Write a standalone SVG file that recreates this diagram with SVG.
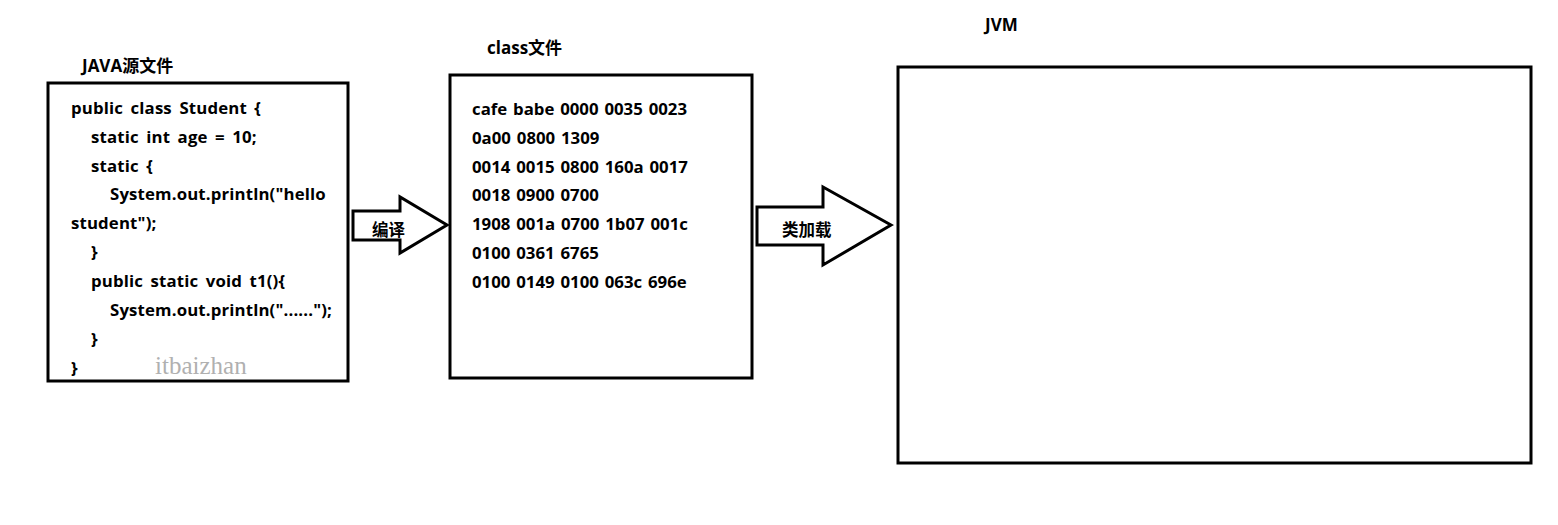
<svg xmlns="http://www.w3.org/2000/svg" width="1558" height="525" viewBox="0 0 1558 525">
<style>
.box{fill:#fff;stroke:#000;stroke-width:3}
.arr{fill:#fff;stroke:#000;stroke-width:3;stroke-linejoin:miter}
.t{font-family:"Open Sans","Noto Sans","Noto Sans CJK SC",sans-serif;font-weight:bold;font-size:16.8px;fill:#000}
.j{word-spacing:3px;letter-spacing:0.15px}
.c{word-spacing:1.5px}
.l{font-family:"Open Sans","Noto Sans","Noto Sans CJK SC",sans-serif;font-weight:bold;font-size:17px;fill:#000}
.a{font-family:"Open Sans","Noto Sans","Noto Sans CJK SC",sans-serif;font-weight:600;font-size:16.5px;fill:#000}
.w{font-family:"Liberation Serif",serif;font-size:25px;fill:#b0b0b0}
</style>
<rect width="1558" height="525" fill="#fff"/>
<g id="java-source">
<text class="l" x="82" y="72">JAVA源文件</text>
<rect class="box" x="48" y="83" width="300" height="298"/>
<g class="t j">
<text x="71" y="114">public class Student {</text>
<text x="91" y="143">static int age = 10;</text>
<text x="91" y="172">static {</text>
<text x="110" y="200">System.out.println("hello</text>
<text x="71" y="229">student");</text>
<text x="91" y="258">}</text>
<text x="91" y="287">public static void t1(){</text>
<text x="110" y="316">System.out.println("......");</text>
<text x="91" y="345">}</text>
<text x="71" y="374">}</text>
</g>
<text class="w" x="155" y="374">itbaizhan</text>
</g>
<g id="class-file">
<text class="l" x="487" y="54">class文件</text>
<rect class="box" x="450" y="75" width="302" height="303"/>
<g class="t c">
<text x="472" y="115">cafe babe 0000 0035 0023</text>
<text x="472" y="144">0a00 0800 1309</text>
<text x="472" y="173">0014 0015 0800 160a 0017</text>
<text x="472" y="201">0018 0900 0700</text>
<text x="472" y="230">1908 001a 0700 1b07 001c</text>
<text x="472" y="259">0100 0361 6765</text>
<text x="472" y="288">0100 0149 0100 063c 696e</text>
</g>
</g>
<g id="jvm">
<text class="l" x="985" y="31">JVM</text>
<rect class="box" x="898" y="67" width="633" height="396"/>
</g>
<g id="connectors">
<path class="arr" d="M353 211 L400 211 L400 197 L447 225 L400 253 L400 240 L353 240 Z"/>
<text class="a" x="372" y="236">编译</text>
<path class="arr" d="M757 207 L823 207 L823 187 L891 225 L823 265 L823 245 L757 245 Z"/>
<text class="a" x="782" y="236">类加载</text>
</g>
</svg>
